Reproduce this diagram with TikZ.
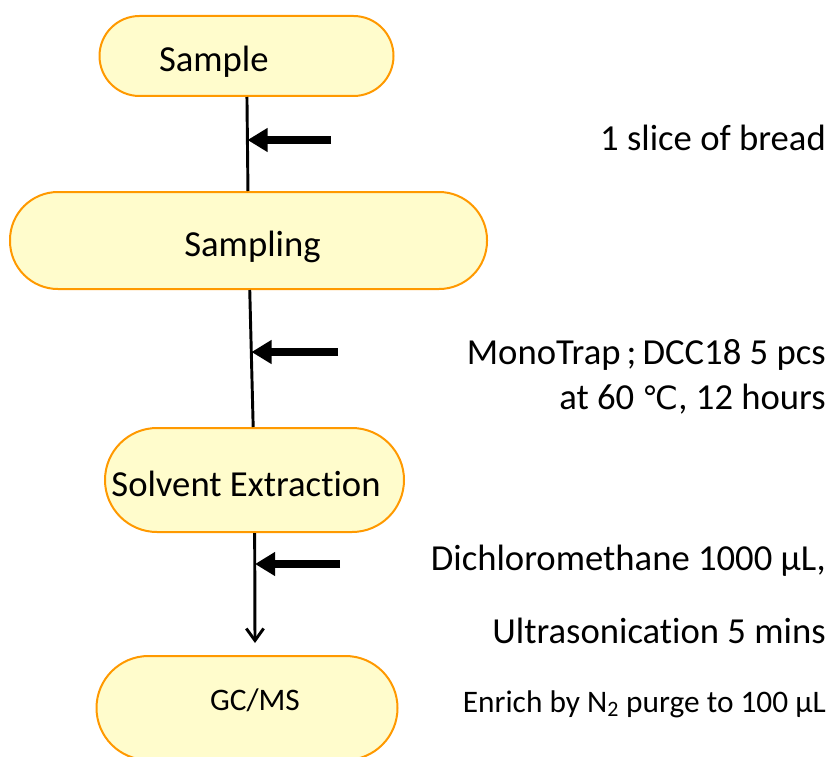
\documentclass[tikz,border=0pt]{standalone}
\usepackage{fontspec}
\setmainfont{Carlito}[Ligatures=NoCommon]
\newfontfamily\symfont{DejaVu Sans}
\usepackage{tikz}
\usetikzlibrary{arrows.meta}
\definecolor{stagefill}{RGB}{255,252,204}
\definecolor{stageedge}{RGB}{255,153,0}

\begin{document}
\begin{tikzpicture}[x=0.75pt, y=-0.75pt,
stage/.style={rectangle, rounded corners=#1, draw=stageedge, line width=1.5pt,
fill=stagefill, inner sep=0pt, text height=31pt, text depth=7pt,
font=\fontsize{27.5}{33}\selectfont},
flow/.style={line width=2.2pt},
feed/.style={-{Triangle[length=15pt,width=17pt]}, line width=6pt},
note/.style={anchor=base east, inner sep=0pt, font=\fontsize{27.5}{33}\selectfont}
]
\useasboundingbox (0,0) rectangle (830,756);

% Stages
\node[stage=30pt, minimum width=220.5pt, minimum height=60pt] (sample) at (246.5,56)
{Sample\hspace*{49pt}};
\node[stage=36pt, minimum width=357.75pt, minimum height=72.75pt] (sampling) at (248.5,240.5)
{\hspace*{6pt}Sampling};
\node[stage=39pt, minimum width=224.25pt, minimum height=78pt] (solvent) at (254.5,480)
{Solvent Extraction\hspace*{12.75pt}};
\node[stage=39pt, minimum width=225.75pt, minimum height=78pt,
font=\fontsize{23.5}{28}\selectfont, text height=8.5pt, text depth=5pt] (gcms) at (247,708)
{\hspace*{12pt}GC/MS};

% Conditions
\node[note] (bread) at (826,151) {1 slice of bread};
\node[note] (trap) at (826,364) {MonoTrap\,;\,DCC18 5 pcs};
\node[note] (heat) at (826,409) {at 60 {\symfont\fontsize{24}{28}\selectfont ℃}, 12 hours};
\node[note] (solv) at (826,570) {Dichloromethane 1000 µL,};
\node[note] (sonic) at (826,643) {Ultrasonication 5 mins};
\node[note, font=\fontsize{23.5}{28}\selectfont] (enrich) at (826,712)
{Enrich by N\textsubscript{2} purge to 100 µL};

% Flow line
\coordinate (gcin) at (255,643);
\draw[flow] (sample) -- (sampling);
\draw[flow] (sampling) -- (solvent);
\draw[flow, -{Straight Barb[length=9pt,width=13pt]}] (solvent) -- (gcin);

% Inputs
\coordinate (tail1) at (331,140);
\coordinate (tip1) at (247.5,140);
\coordinate (tail2) at (338,352);
\coordinate (tip2) at (251.5,352);
\coordinate (tail3) at (340,564);
\coordinate (tip3) at (255,564);
\draw[feed] (tail1) -- (tip1);
\draw[feed] (tail2) -- (tip2);
\draw[feed] (tail3) -- (tip3);

\end{tikzpicture}
\end{document}
